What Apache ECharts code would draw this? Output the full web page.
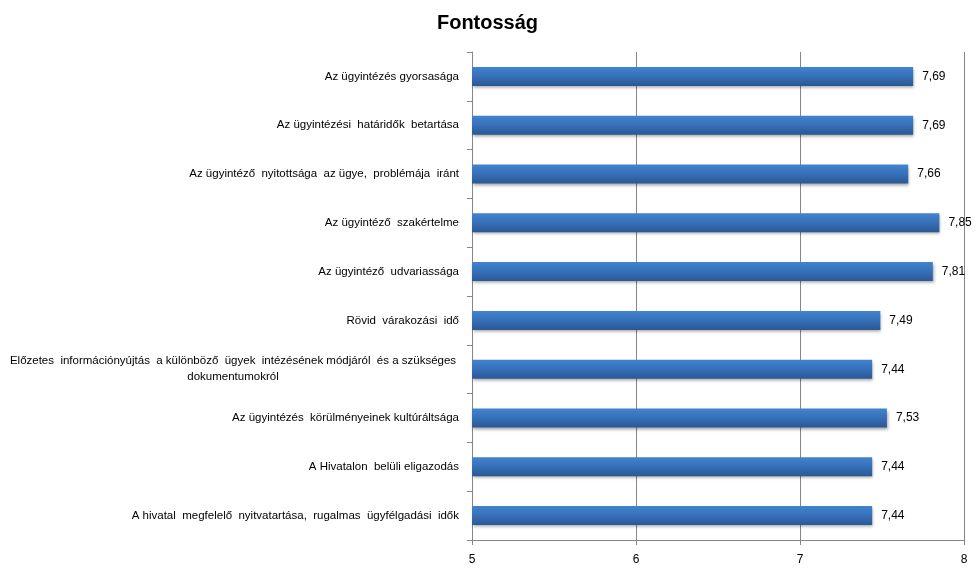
<!DOCTYPE html>
<html>
<head>
<meta charset="utf-8">
<script src="https://cdn.jsdelivr.net/npm/echarts@6/dist/echarts.min.js"></script>
<style>html,body{margin:0;padding:0;background:#fff}#c{width:975px;height:575px}</style>
</head>
<body>
<div id="c"></div>
<script>
const categories = [
  "Az ügyintézés gyorsasága",
  "Az ügyintézési  határidők  betartása",
  "Az ügyintéző  nyitottsága  az ügye,  problémája  iránt",
  "Az ügyintéző  szakértelme",
  "Az ügyintéző  udvariassága",
  "Rövid  várakozási  idő",
  "Előzetes  információnyújtás  a különböző  ügyek  intézésének módjáról  és a szükséges\ndokumentumokról",
  "Az ügyintézés  körülményeinek kultúráltsága",
  "A Hivatalon  belüli eligazodás",
  "A hivatal  megfelelő  nyitvatartása,  rugalmas  ügyfélgadási  idők"
];
const values = [7.69, 7.69, 7.66, 7.85, 7.81, 7.49, 7.44, 7.53, 7.44, 7.44];
const xTicks = [5, 6, 7, 8];

const chart = echarts.init(document.getElementById('c'));
const FONT = 'Liberation Sans';
chart.setOption({
  animation: false,
  title: {
    text: 'Fontosság', left: 'center', top: 8,
    textStyle: { fontFamily: FONT, fontSize: 20, fontWeight: 'bold', color: '#000' }
  },
  grid: { left: 472, right: 11, top: 52, bottom: 35 },
  xAxis: {
    type: 'value', min: xTicks[0], max: xTicks[xTicks.length - 1], interval: 1,
    axisLine: { show: true, lineStyle: { color: '#868686' } },
    axisTick: { show: true, length: 5, lineStyle: { color: '#868686' } },
    splitLine: { show: true, lineStyle: { color: '#868686' } },
    axisLabel: { margin: 14, fontFamily: FONT, fontSize: 12, color: '#000' }
  },
  yAxis: {
    type: 'category', data: categories, inverse: true,
    axisLine: { show: true, lineStyle: { color: '#868686' } },
    axisTick: { show: true, length: 5, lineStyle: { color: '#868686' } },
    axisLabel: {
      margin: 13, fontFamily: FONT, fontSize: 11.5, color: '#000',
      formatter: v => v.includes('\n') ? v.split('\n').map(l => '{w|' + l + '}').join('\n') : v,
      rich: { w: { width: 452, align: 'center', fontFamily: FONT, fontSize: 11.5, color: '#000', lineHeight: 16 } }
    }
  },
  series: [{
    type: 'bar', data: values, barWidth: 19,
    itemStyle: {
      color: new echarts.graphic.LinearGradient(0, 0, 0, 1, [
        { offset: 0, color: '#4283d0' },
        { offset: 0.5, color: '#3670b8' },
        { offset: 1, color: '#2a5894' }
      ]),
      shadowColor: 'rgba(0,0,0,0.35)', shadowBlur: 3, shadowOffsetX: 1, shadowOffsetY: 2
    },
    label: {
      show: true, position: 'right', distance: 9,
      fontFamily: FONT, fontSize: 12, color: '#000',
      formatter: p => p.value.toFixed(2).replace('.', ',')
    }
  }]
});
</script>
</body>
</html>
